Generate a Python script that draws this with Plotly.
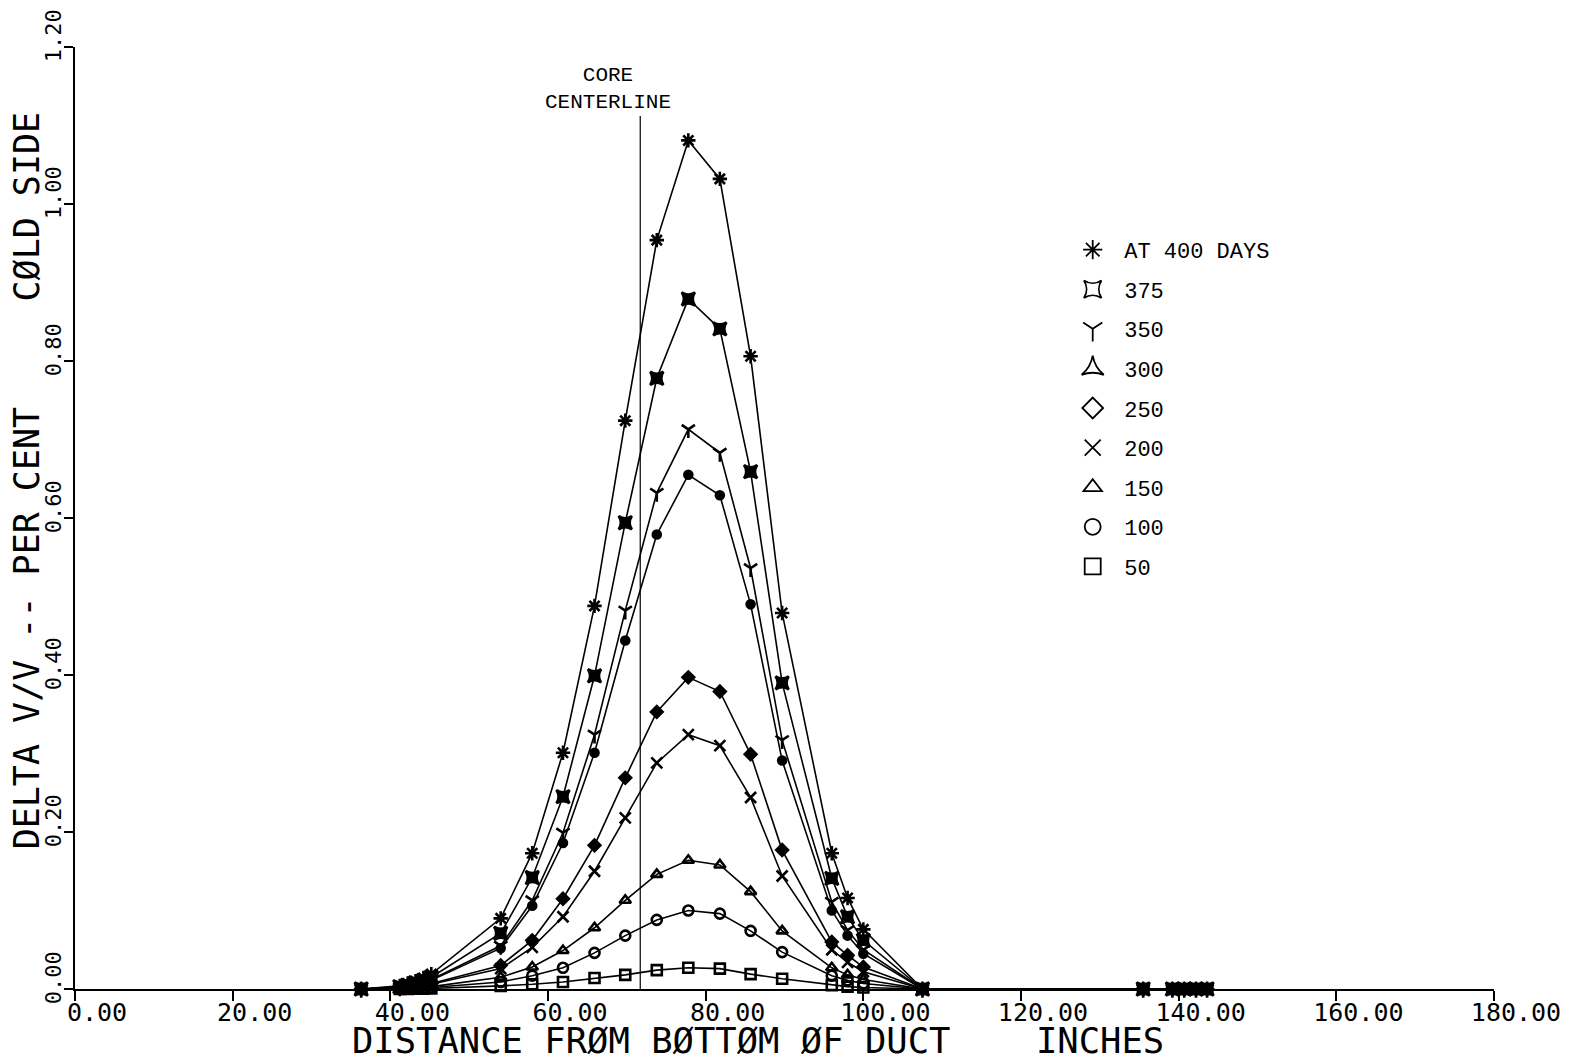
import plotly.graph_objects as go

# ---- data ----
distance = [36.3, 41.2, 42.2, 43.2, 44.2, 45.2, 54.0, 58.0, 61.9, 65.9, 69.8, 73.8,
            77.8, 81.8, 85.7, 89.7, 96.0, 98.0, 100.0, 107.5, 135.5, 139.2, 140.7,
            142.2, 143.6]

d400 = [0, 0.004, 0.007, 0.010, 0.014, 0.019, 0.090, 0.173, 0.301, 0.488, 0.724, 0.954,
        1.081, 1.032, 0.806, 0.479, 0.173, 0.116, 0.076, 0, 0, 0, 0, 0, 0]
d375 = [0, 0.003, 0.005, 0.008, 0.011, 0.015, 0.071, 0.142, 0.245, 0.399, 0.594, 0.778,
        0.879, 0.841, 0.659, 0.390, 0.141, 0.092, 0.062, 0, 0, 0, 0, 0, 0]
d350 = [0, 0.002, 0.004, 0.006, 0.009, 0.012, 0.055, 0.113, 0.199, 0.324, 0.482, 0.632,
        0.713, 0.683, 0.536, 0.317, 0.111, 0.075, 0.050, 0, 0, 0, 0, 0, 0]
d300 = [0, 0.002, 0.004, 0.006, 0.008, 0.011, 0.052, 0.106, 0.186, 0.301, 0.444, 0.579,
        0.655, 0.629, 0.490, 0.291, 0.100, 0.068, 0.045, 0, 0, 0, 0, 0, 0]
d250 = [0, 0.001, 0.002, 0.003, 0.005, 0.007, 0.030, 0.062, 0.115, 0.183, 0.269, 0.353,
        0.397, 0.379, 0.299, 0.177, 0.060, 0.043, 0.028, 0, 0, 0, 0, 0, 0]
d200 = [0, 0.001, 0.002, 0.003, 0.004, 0.006, 0.026, 0.053, 0.092, 0.150, 0.218, 0.288,
        0.324, 0.310, 0.244, 0.144, 0.050, 0.034, 0.022, 0, 0, 0, 0, 0, 0]
d150 = [0, 0.0005, 0.001, 0.0015, 0.002, 0.003, 0.015, 0.028, 0.049, 0.078, 0.113, 0.146,
        0.164, 0.158, 0.124, 0.074, 0.027, 0.018, 0.012, 0, 0, 0, 0, 0, 0]
d100 = [0, 0.0003, 0.0006, 0.001, 0.0013, 0.002, 0.009, 0.017, 0.027, 0.046, 0.068, 0.088,
        0.100, 0.096, 0.074, 0.047, 0.017, 0.011, 0.007, 0, 0, 0, 0, 0, 0]
d50 = [0, 0, 0.0002, 0.0003, 0.0005, 0.0007, 0.004, 0.006, 0.009, 0.014, 0.018, 0.024,
       0.027, 0.026, 0.019, 0.013, 0.005, 0.003, 0.002, 0, 0, 0, 0, 0, 0]

series_labels = ["AT 400 DAYS", "375", "350", "300", "250", "200", "150", "100", "50"]
series_values = [d400, d375, d350, d300, d250, d200, d150, d100, d50]
legend_symbols = ["asterisk-open", "star-square-open", "y-down-open", "star-triangle-up-open",
                  "diamond-open", "x-thin-open", "triangle-up-open", "circle-open",
                  "square-open"]
# plotted symbols look heavier (ink spread of the plotter)
data_symbols = ["asterisk-open", "star-square", "y-down-open", "circle",
                "diamond", "x-thin-open", "triangle-up-open", "circle-open",
                "square-open"]
data_sizes = [12, 12, 11, 8, 9, 11, 10, 10, 10]

core_centerline_x = 71.7
core_centerline_top = 1.112

x_ticks = [0, 20, 40, 60, 80, 100, 120, 140, 160, 180]
y_ticks = [0, 0.2, 0.4, 0.6, 0.8, 1.0, 1.2]

MONO = "DejaVu Sans Mono"
TYPE = "Liberation Mono"

fig = go.Figure()

for lab, vals, sym, sz in zip(series_labels, series_values, data_symbols, data_sizes):
    fig.add_trace(go.Scatter(
        x=distance, y=vals, mode="lines+markers", showlegend=False,
        cliponaxis=False,
        line=dict(color="black", width=1.6),
        marker=dict(symbol=sym, size=sz, color="black",
                    line=dict(color="black", width=2.6)),
    ))

for i, (lab, sym) in enumerate(zip(series_labels, legend_symbols)):
    fig.add_trace(go.Scatter(
        x=[None], y=[None], mode="markers", name=lab, legendgroup=f"g{i}",
        marker=dict(symbol=sym, size=16, color="black",
                    line=dict(color="black", width=1.8)),
    ))

fig.add_shape(type="line", xref="x", yref="y",
              x0=core_centerline_x, x1=core_centerline_x,
              y0=0, y1=core_centerline_top,
              line=dict(color="black", width=1.2))

fig.add_annotation(xref="x", yref="y", x=core_centerline_x - 4.1, y=1.146,
                   text="CORE<br>CENTERLINE", showarrow=False,
                   font=dict(family=TYPE, size=21, color="black"),
                   xanchor="center", yanchor="middle")

fig.add_annotation(xref="paper", yref="paper", x=0.481, y=-0.055,
                   text="DISTANCE\u00a0FRØM\u00a0BØTTØM\u00a0ØF\u00a0DUCT\u00a0\u00a0\u00a0\u00a0INCHES",
                   showarrow=False, xanchor="center", yanchor="middle",
                   font=dict(family=MONO, size=35.5, color="black"))

fig.add_annotation(xref="paper", yref="paper", x=-0.0338, y=0.540,
                   text="DELTA\u00a0V/V\u00a0--\u00a0PER\u00a0CENT\u00a0\u00a0\u00a0\u00a0\u00a0CØLD\u00a0SIDE",
                   textangle=-90, showarrow=False, xanchor="center", yanchor="middle",
                   font=dict(family=MONO, size=35, color="black"))

# the page body has an 8px margin, so the figure is shifted to compensate
fig.update_layout(
    template="none",
    width=1570, height=1058,
    margin=dict(l=67, r=84, t=39, b=77),
    paper_bgcolor="white", plot_bgcolor="white",
    showlegend=True,
    legend=dict(x=0.695, y=0.807, xanchor="left", yanchor="top",
                font=dict(family=TYPE, size=22, color="black"),
                tracegroupgap=8, itemwidth=53,
                bgcolor="rgba(0,0,0,0)", itemsizing="trace"),
)

fig.update_xaxes(range=[0, 180], tickvals=x_ticks, tickformat=".2f",
                 ticks="outside", ticklen=10, tickwidth=1.5, tickcolor="black",
                 showline=True, linecolor="black", linewidth=1.5,
                 showgrid=False, zeroline=False, automargin=False,
                 ticklabelshift=22, ticklabelstandoff=-10, ticklabeloverflow="allow",
                 tickfont=dict(family=MONO, size=25, color="black"))

fig.update_yaxes(range=[0, 1.2], tickvals=y_ticks, tickformat=".2f",
                 ticks="outside", ticklen=9, tickwidth=1.5, tickcolor="black",
                 showline=True, linecolor="black", linewidth=2,
                 showgrid=False, zeroline=False, automargin=False, tickangle=-90,
                 ticklabelshift=-8, ticklabelstandoff=-6, ticklabeloverflow="allow",
                 tickfont=dict(family=MONO, size=22, color="black"))

fig.write_html("out.html")
